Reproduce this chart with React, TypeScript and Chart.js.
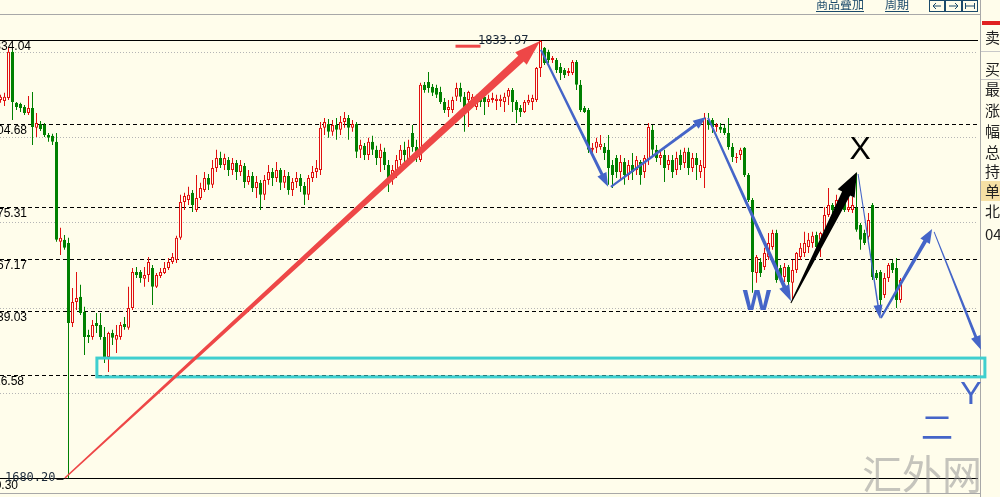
import React, { useEffect, useRef } from 'react';
import { Chart, registerables } from 'chart.js';

Chart.register(...registerables);

// ---------- data ----------
const openPrices = [
  1813.0, 1812.6, 1813.7, 1829.9, 1812.0, 1811.6, 1810.5, 1808.4, 1810.2, 1803.2,
  1804.6, 1804.2, 1800.7, 1800.4, 1798.3, 1763.2, 1763.9, 1762.8, 1734.7, 1742.1,
  1743.9, 1738.6, 1730.5, 1729.8, 1734.7, 1734.0, 1729.8, 1722.8, 1731.2, 1728.8,
  1729.8, 1734.4, 1733.0, 1740.0, 1752.6, 1752.6, 1750.2, 1751.6, 1754.0, 1747.4,
  1751.2, 1752.3, 1754.0, 1756.1, 1756.8, 1764.6, 1777.2, 1777.9, 1780.4, 1774.4,
  1778.6, 1781.4, 1785.6, 1783.2, 1789.1, 1792.6, 1790.2, 1791.9, 1788.4, 1790.9,
  1787.7, 1789.8, 1784.2, 1786.3, 1782.1, 1783.9, 1779.7, 1784.9, 1787.7, 1785.6,
  1788.4, 1783.9, 1786.3, 1781.4, 1784.2, 1785.6, 1782.8, 1779.7, 1785.6, 1787.7,
  1788.4, 1803.2, 1804.6, 1801.8, 1804.2, 1802.5, 1805.3, 1806.7, 1803.2, 1804.6,
  1795.5, 1796.9, 1793.7, 1798.3, 1795.5, 1792.6, 1794.8, 1790.2, 1785.6, 1787.7,
  1791.9, 1795.5, 1791.9, 1801.4, 1796.5, 1791.9, 1818.3, 1819.3, 1817.6, 1817.2,
  1815.8, 1812.3, 1809.5, 1809.5, 1814.1, 1817.2, 1814.1, 1813.0, 1812.0, 1810.5,
  1814.8, 1814.1, 1812.3, 1813.0, 1812.6, 1812.6, 1812.3, 1814.1, 1816.5, 1812.3,
  1810.2, 1808.8, 1812.0, 1812.3, 1813.0, 1824.2, 1831.3, 1829.9, 1827.0, 1827.0,
  1824.6, 1823.5, 1822.5, 1822.5, 1826.3, 1818.3, 1810.2, 1809.5, 1795.5, 1796.2,
  1796.5, 1796.5, 1795.5, 1790.2, 1792.6, 1787.7, 1791.2, 1786.7, 1790.2, 1788.4,
  1791.2, 1787.7, 1791.9, 1802.5, 1795.5, 1792.6, 1793.7, 1790.2, 1791.9, 1788.4,
  1793.7, 1790.9, 1794.8, 1789.1, 1792.6, 1787.7, 1789.1, 1806.0, 1806.0, 1803.5,
  1803.5, 1803.2, 1801.4, 1796.5, 1792.6, 1793.7, 1796.2, 1786.7, 1777.9, 1752.3,
  1756.1, 1754.4, 1757.9, 1761.4, 1766.3, 1754.0, 1750.9, 1754.4, 1748.8, 1753.3,
  1757.9, 1759.3, 1761.4, 1762.8, 1765.6, 1763.9, 1766.7, 1772.6, 1776.1, 1775.4,
  1777.2, 1776.8, 1774.4, 1774.4, 1775.1, 1769.1, 1766.3, 1765.0, 1776.1, 1752.3,
  1752.6, 1744.5, 1750.5, 1755.8, 1754.0, 1742.8,
];
const highPrices = [
  1814.8, 1815.5, 1831.3, 1830.6, 1812.3, 1812.0, 1811.2, 1814.4, 1815.8, 1808.4,
  1805.6, 1804.9, 1801.4, 1801.1, 1801.4, 1768.1, 1765.6, 1764.6, 1747.0, 1752.6,
  1748.1, 1740.4, 1732.3, 1735.8, 1738.2, 1738.2, 1733.3, 1731.6, 1732.3, 1734.0,
  1735.1, 1736.8, 1747.4, 1754.0, 1754.4, 1753.3, 1754.4, 1757.9, 1755.1, 1752.3,
  1754.0, 1756.1, 1757.5, 1759.3, 1765.3, 1779.7, 1780.4, 1782.5, 1781.4, 1786.7,
  1783.9, 1787.7, 1787.0, 1791.9, 1795.5, 1794.8, 1794.1, 1793.0, 1792.6, 1791.9,
  1791.9, 1790.9, 1788.4, 1787.7, 1786.3, 1784.9, 1786.7, 1790.2, 1789.1, 1791.2,
  1789.1, 1788.4, 1787.7, 1785.6, 1787.7, 1787.0, 1784.2, 1786.7, 1789.8, 1791.9,
  1805.3, 1806.7, 1806.3, 1806.0, 1806.7, 1807.4, 1808.8, 1807.7, 1806.0, 1805.3,
  1799.0, 1797.9, 1799.7, 1800.4, 1796.9, 1797.6, 1796.2, 1791.9, 1790.2, 1793.7,
  1797.2, 1798.3, 1799.0, 1804.2, 1799.0, 1819.0, 1819.3, 1822.8, 1818.6, 1818.3,
  1817.6, 1813.7, 1813.0, 1814.1, 1819.0, 1819.0, 1815.8, 1816.2, 1815.1, 1814.8,
  1815.8, 1816.5, 1814.8, 1815.5, 1814.8, 1814.8, 1815.5, 1817.2, 1817.2, 1813.0,
  1811.2, 1813.0, 1814.8, 1814.8, 1824.6, 1833.97, 1831.6, 1830.6, 1828.4, 1827.7,
  1826.0, 1824.2, 1824.2, 1827.0, 1827.0, 1820.0, 1810.9, 1810.2, 1797.9, 1799.7,
  1800.7, 1797.9, 1800.7, 1791.9, 1793.7, 1793.7, 1792.6, 1791.9, 1794.4, 1793.3,
  1791.9, 1793.7, 1804.9, 1804.2, 1797.2, 1795.5, 1795.5, 1793.7, 1793.7, 1794.8,
  1795.5, 1796.2, 1796.2, 1794.4, 1794.4, 1791.9, 1808.4, 1808.4, 1806.7, 1804.9,
  1804.9, 1804.2, 1806.7, 1797.9, 1794.4, 1796.2, 1796.5, 1787.4, 1778.6, 1758.6,
  1757.5, 1761.1, 1766.3, 1767.4, 1767.4, 1755.1, 1755.8, 1755.1, 1756.8, 1759.6,
  1762.8, 1766.7, 1766.3, 1766.7, 1766.7, 1766.7, 1775.4, 1782.1, 1776.8, 1779.7,
  1778.6, 1779.0, 1778.6, 1779.0, 1787.4, 1769.8, 1767.4, 1773.3, 1776.8, 1753.3,
  1753.3, 1752.3, 1755.8, 1756.8, 1757.5, 1750.5,
];
const lowPrices = [
  1812.0, 1810.9, 1813.0, 1806.0, 1809.5, 1808.8, 1807.7, 1807.7, 1797.2, 1800.0,
  1802.1, 1800.0, 1798.3, 1797.2, 1763.2, 1758.6, 1760.4, 1680.2, 1733.3, 1739.3,
  1737.5, 1723.5, 1727.7, 1728.8, 1731.2, 1728.8, 1720.7, 1717.5, 1727.0, 1724.2,
  1728.8, 1732.3, 1732.3, 1739.3, 1750.5, 1748.8, 1747.4, 1749.1, 1741.0, 1747.0,
  1750.5, 1751.9, 1753.3, 1755.4, 1755.8, 1763.9, 1774.4, 1776.1, 1773.7, 1773.7,
  1777.9, 1780.7, 1781.4, 1782.1, 1787.7, 1789.1, 1788.4, 1786.3, 1786.7, 1784.9,
  1786.3, 1782.1, 1783.2, 1780.7, 1778.6, 1774.4, 1777.9, 1783.2, 1782.8, 1784.2,
  1781.4, 1782.1, 1779.7, 1779.3, 1782.1, 1780.7, 1776.1, 1777.9, 1784.2, 1785.6,
  1786.7, 1800.7, 1799.7, 1800.4, 1799.0, 1800.7, 1803.2, 1799.0, 1801.8, 1792.6,
  1792.6, 1791.9, 1791.9, 1793.7, 1790.2, 1787.7, 1788.4, 1780.7, 1783.2, 1785.6,
  1790.2, 1791.2, 1790.9, 1794.8, 1791.2, 1791.2, 1815.5, 1815.5, 1814.4, 1813.7,
  1811.6, 1808.4, 1807.0, 1808.4, 1812.6, 1812.3, 1801.8, 1803.5, 1810.9, 1809.5,
  1810.5, 1807.7, 1810.5, 1812.0, 1809.5, 1810.5, 1808.8, 1811.2, 1808.8, 1804.9,
  1807.0, 1808.4, 1811.2, 1809.5, 1812.3, 1821.1, 1825.3, 1826.0, 1826.0, 1822.5,
  1820.0, 1820.7, 1821.4, 1821.8, 1816.5, 1808.8, 1808.4, 1794.4, 1793.0, 1794.4,
  1795.5, 1791.9, 1783.2, 1782.1, 1785.6, 1784.9, 1783.2, 1784.9, 1784.9, 1786.7,
  1783.2, 1785.6, 1790.2, 1793.7, 1791.2, 1790.2, 1784.2, 1788.4, 1785.6, 1786.7,
  1788.4, 1789.1, 1786.7, 1787.7, 1784.9, 1785.6, 1782.1, 1802.5, 1801.4, 1801.8,
  1801.4, 1800.7, 1795.5, 1791.2, 1790.9, 1791.9, 1786.0, 1777.2, 1745.3, 1748.8,
  1750.9, 1753.3, 1756.8, 1760.4, 1748.8, 1749.1, 1749.1, 1747.4, 1742.8, 1752.3,
  1756.8, 1757.9, 1759.3, 1761.1, 1759.6, 1757.9, 1766.3, 1771.9, 1773.3, 1774.4,
  1774.4, 1773.7, 1773.7, 1773.3, 1766.7, 1760.4, 1762.1, 1763.9, 1749.8, 1749.8,
  1740.3, 1743.5, 1749.1, 1752.3, 1740.0, 1741.8,
];
const closePrices = [
  1814.1, 1814.1, 1829.9, 1812.3, 1810.5, 1810.2, 1808.4, 1810.2, 1803.5, 1804.9,
  1802.8, 1800.7, 1799.7, 1798.3, 1763.9, 1764.6, 1761.1, 1734.7, 1742.1, 1743.5,
  1738.2, 1729.8, 1729.8, 1734.0, 1733.7, 1729.8, 1722.4, 1731.2, 1729.5, 1730.5,
  1734.0, 1733.3, 1740.0, 1752.6, 1751.6, 1750.5, 1751.6, 1756.1, 1747.4, 1751.6,
  1752.6, 1754.0, 1756.1, 1757.9, 1764.6, 1777.2, 1779.3, 1779.7, 1776.1, 1778.6,
  1782.1, 1785.6, 1783.2, 1789.1, 1792.6, 1790.2, 1792.6, 1788.4, 1790.9, 1787.7,
  1790.2, 1784.2, 1786.3, 1782.1, 1784.2, 1779.7, 1784.9, 1787.7, 1785.6, 1788.4,
  1783.9, 1786.3, 1781.4, 1784.2, 1785.6, 1782.8, 1779.7, 1785.6, 1787.7, 1789.1,
  1803.2, 1805.3, 1801.8, 1804.2, 1802.5, 1805.3, 1806.7, 1803.2, 1804.6, 1794.8,
  1797.2, 1793.7, 1798.3, 1795.5, 1792.6, 1795.5, 1790.2, 1785.6, 1788.4, 1791.9,
  1795.5, 1793.7, 1796.5, 1796.5, 1792.6, 1818.3, 1816.5, 1817.2, 1815.5, 1814.8,
  1812.3, 1809.5, 1810.5, 1813.0, 1817.2, 1814.1, 1810.5, 1815.8, 1814.1, 1813.7,
  1812.3, 1812.3, 1813.4, 1813.7, 1813.4, 1813.4, 1814.1, 1816.5, 1812.3, 1809.5,
  1808.8, 1812.3, 1813.0, 1813.7, 1824.2, 1833.7, 1826.0, 1827.0, 1827.7, 1823.5,
  1822.5, 1821.8, 1823.2, 1826.3, 1818.3, 1809.5, 1808.8, 1795.5, 1796.2, 1798.3,
  1797.6, 1794.4, 1789.1, 1786.7, 1787.7, 1791.2, 1786.7, 1790.2, 1787.7, 1791.9,
  1786.7, 1792.6, 1803.5, 1795.5, 1792.6, 1793.7, 1789.1, 1791.9, 1787.7, 1792.6,
  1790.2, 1794.8, 1789.1, 1792.6, 1790.2, 1790.2, 1806.7, 1804.2, 1803.5, 1804.2,
  1802.5, 1801.4, 1796.5, 1793.0, 1793.0, 1795.5, 1786.7, 1777.9, 1752.6, 1757.9,
  1752.3, 1759.3, 1762.8, 1766.3, 1749.8, 1750.9, 1754.4, 1749.1, 1753.3, 1759.3,
  1761.1, 1762.8, 1763.9, 1765.3, 1761.4, 1766.3, 1772.6, 1776.1, 1774.4, 1777.9,
  1775.4, 1774.4, 1775.4, 1776.1, 1767.4, 1763.9, 1762.8, 1770.9, 1750.9, 1750.5,
  1742.8, 1750.5, 1755.1, 1753.3, 1742.8, 1749.8,
];

const gridValues = [1830, 1800, 1770, 1740, 1710];
const fibLevels = [1834.04, 1804.68, 1775.31, 1757.17, 1739.03, 1716.58, 1680.3];
const fibLabels = ['1834.04', '1804.68', '1775.31', '1767.17', '1739.03', '1716.58', '1680.30'];

// wave arrows: start / end in (bar index, price)
const waveFromIdx = [16.1, 135.1, 152.6, 176.9, 197.6, 214.4, 220.1, 233.4];
const waveFromPrice = [1680.3, 1830.6, 1782.5, 1806.7, 1741.7, 1787.0, 1736.5, 1766.7];
const waveToIdx = [134.9, 151.9, 176.4, 197.6, 214.1, 219.9, 232.9, 245.1];
const waveToPrice = [1833.7, 1782.5, 1807.0, 1742.4, 1787.7, 1736.1, 1767.7, 1725.3];

const waveLabels = ['W', 'X', 'Y', '二'];
const waveLabelIdx = [189.1, 214.9, 242.6, 234.1];
const waveLabelPrice = [1742.1, 1795.5, 1709.5, 1698.2];

const zoneIdx = [24.1, 246.1];
const zonePrice = [1722.4, 1715.8];

const panelLabels = ['卖', '买', '最', '涨', '幅', '总', '持', '单', '北', '04'];
const toolbarLabels = ['商品叠加', '周期'];
const watermarkText = '汇外网';

// ---------- styles ----------
const CREAM = '#FFFDEB';
const RED = '#E01010';
const GREEN = '#008000';
const BLUE = '#4565C8';
const ARROW_RED = '#EE4747';

const arrowStyles = [
  { color: ARROW_RED, w1: 1.5, w2: 8, head: 26, headW: 17 },
  { color: BLUE, w1: 2, w2: 3, head: 14, headW: 10 },
  { color: BLUE, w1: 2, w2: 3, head: 13, headW: 10 },
  { color: BLUE, w1: 2, w2: 4, head: 16, headW: 11 },
  { color: '#000000', w1: 1, w2: 9, head: 24, headW: 19 },
  { color: BLUE, w1: 1, w2: 1.5, head: 14, headW: 9 },
  { color: BLUE, w1: 2, w2: 4, head: 14, headW: 11 },
  { color: BLUE, w1: 1, w2: 3, head: 14, headW: 10 },
];
const labelStyles = [
  { color: BLUE, font: 'bold 30px "Liberation Sans"' },
  { color: '#000000', font: '32px "Liberation Sans"' },
  { color: BLUE, font: '32px "Liberation Sans"' },
  { color: BLUE, font: '32px "Noto Sans CJK SC"' },
];
const fibLabelRight = [31, 27, 27, 27, 27, 24, 18];

function drawArrow(ctx: CanvasRenderingContext2D, x1: number, y1: number, x2: number, y2: number,
  w1: number, w2: number, head: number, headW: number, color: string) {
  const dx = x2 - x1, dy = y2 - y1;
  const len = Math.hypot(dx, dy);
  const ux = dx / len, uy = dy / len;
  const nx = -uy, ny = ux;
  const bx = x2 - ux * head, by = y2 - uy * head;
  ctx.beginPath();
  ctx.moveTo(x1 + nx * w1 / 2, y1 + ny * w1 / 2);
  ctx.lineTo(bx + nx * w2 / 2, by + ny * w2 / 2);
  ctx.lineTo(bx + nx * headW / 2, by + ny * headW / 2);
  ctx.lineTo(x2, y2);
  ctx.lineTo(bx - nx * headW / 2, by - ny * headW / 2);
  ctx.lineTo(bx - nx * w2 / 2, by - ny * w2 / 2);
  ctx.lineTo(x1 - nx * w1 / 2, y1 - ny * w1 / 2);
  ctx.closePath();
  ctx.fillStyle = color;
  ctx.fill();
}

function hline(ctx: CanvasRenderingContext2D, x1: number, x2: number, y: number) {
  ctx.beginPath();
  ctx.moveTo(x1, y);
  ctx.lineTo(x2, y);
  ctx.stroke();
}

const overlayPlugin = {
  id: 'overlay',
  beforeDraw(chart: any) {
    const ctx = chart.ctx as CanvasRenderingContext2D;
    ctx.save();
    ctx.fillStyle = CREAM;
    ctx.fillRect(0, 0, chart.width, chart.height);
    ctx.restore();
  },
  beforeDatasetsDraw(chart: any) {
    const ctx = chart.ctx as CanvasRenderingContext2D;
    const { left, right, top, bottom } = chart.chartArea;
    const y = chart.scales.y;
    ctx.save();
    // dotted grid
    ctx.strokeStyle = '#B5B5B5';
    ctx.lineWidth = 1;
    ctx.setLineDash([1, 2]);
    gridValues.forEach((v) => hline(ctx, left, right - 2, Math.round(y.getPixelForValue(v)) + 0.5));
    // fibonacci levels
    ctx.strokeStyle = '#000000';
    fibLevels.forEach((v, i) => {
      ctx.setLineDash(i === 0 || i === fibLevels.length - 1 ? [] : [4, 3]);
      hline(ctx, left, right - 2, Math.round(y.getPixelForValue(v)) + 0.5);
    });
    ctx.setLineDash([]);
    ctx.font = '12px "Liberation Sans"';
    ctx.fillStyle = '#000000';
    ctx.textAlign = 'right';
    ctx.textBaseline = 'top';
    fibLevels.forEach((v, i) => {
      const py = Math.round(y.getPixelForValue(v));
      const last = i === fibLevels.length - 1;
      ctx.fillText(fibLabels[i], fibLabelRight[i], py + (last ? 2 : 1));
    });
    // frame lines
    ctx.strokeStyle = '#A8A8A8';
    hline(ctx, 0, right, top + 0.5);
    hline(ctx, 0, right, bottom + 0.5);
    ctx.beginPath();
    ctx.moveTo(right + 0.5, 0);
    ctx.lineTo(right + 0.5, chart.height);
    ctx.stroke();
    ctx.restore();
  },
  afterDatasetsDraw(chart: any) {
    const ctx = chart.ctx as CanvasRenderingContext2D;
    const x = chart.scales.x;
    const y = chart.scales.y;
    ctx.save();
    // support zone
    const zx1 = x.getPixelForValue(zoneIdx[0]);
    const zx2 = x.getPixelForValue(zoneIdx[1]);
    const zy1 = y.getPixelForValue(zonePrice[0]);
    const zy2 = y.getPixelForValue(zonePrice[1]);
    ctx.strokeStyle = '#3FCFCF';
    ctx.lineWidth = 3;
    ctx.strokeRect(zx1, zy1, zx2 - zx1, zy2 - zy1);
    // wave arrows
    waveFromIdx.forEach((_, i) => {
      const s = arrowStyles[i];
      drawArrow(ctx,
        x.getPixelForValue(waveFromIdx[i]), y.getPixelForValue(waveFromPrice[i]),
        x.getPixelForValue(waveToIdx[i]), y.getPixelForValue(waveToPrice[i]),
        s.w1, s.w2, s.head, s.headW, s.color);
    });
    // wave labels
    ctx.textAlign = 'center';
    ctx.textBaseline = 'middle';
    waveLabels.forEach((t, i) => {
      ctx.font = labelStyles[i].font;
      ctx.fillStyle = labelStyles[i].color;
      ctx.fillText(t, x.getPixelForValue(waveLabelIdx[i]), y.getPixelForValue(waveLabelPrice[i]));
    });
    // high / low price tags
    const hiVal = Math.max(...highPrices);
    const hiIdx = highPrices.indexOf(hiVal);
    const loVal = Math.min(...lowPrices);
    const loIdx = lowPrices.indexOf(loVal);
    const hx = x.getPixelForValue(hiIdx);
    const hy = y.getPixelForValue(hiVal);
    ctx.strokeStyle = ARROW_RED;
    ctx.lineWidth = 3;
    hline(ctx, hx - 85, hx - 60, hy + 6);
    ctx.font = '12px "DejaVu Sans Mono"';
    ctx.fillStyle = '#1C2A3A';
    ctx.textAlign = 'right';
    ctx.fillText(hiVal.toFixed(2), hx - 12, hy + 1);
    const lx = x.getPixelForValue(loIdx);
    const ly = y.getPixelForValue(loVal);
    ctx.fillText(loVal.toFixed(2), lx - 13, ly);
    ctx.strokeStyle = '#333333';
    ctx.lineWidth = 1;
    hline(ctx, lx - 12, lx - 5, Math.round(ly) + 1.5);
    ctx.restore();
  },
  afterDraw(chart: any) {
    const ctx = chart.ctx as CanvasRenderingContext2D;
    ctx.save();
    // toolbar
    ctx.font = '12px "Noto Sans CJK SC"';
    ctx.fillStyle = '#1B4A6B';
    ctx.strokeStyle = '#1B4A6B';
    ctx.lineWidth = 1;
    ctx.textAlign = 'left';
    ctx.textBaseline = 'top';
    const tx = [816, 885];
    toolbarLabels.forEach((t, i) => {
      ctx.fillText(t, tx[i], -2);
      const w = ctx.measureText(t).width;
      hline(ctx, tx[i], tx[i] + w, 11.5);
    });
    // toolbar icons
    ctx.strokeRect(929.5, 0.5, 15, 11);
    ctx.strokeRect(945.5, 0.5, 16, 11);
    ctx.strokeRect(962.5, 0.5, 15, 11);
    ctx.beginPath();
    ctx.moveTo(941, 6); ctx.lineTo(933, 6); ctx.moveTo(936, 3); ctx.lineTo(933, 6); ctx.lineTo(936, 9);
    ctx.moveTo(949, 6); ctx.lineTo(958, 6); ctx.moveTo(955, 3); ctx.lineTo(958, 6); ctx.lineTo(955, 9);
    ctx.moveTo(965.5, 3); ctx.lineTo(965.5, 9); ctx.moveTo(974.5, 3); ctx.lineTo(974.5, 9);
    ctx.moveTo(966, 6); ctx.lineTo(974, 6);
    ctx.stroke();
    // right panel
    ctx.fillStyle = '#E02020';
    ctx.fillRect(982, 21, 18, 4);
    ctx.fillStyle = '#F6E0A4';
    ctx.fillRect(981, 181, 19, 20);
    ctx.strokeStyle = '#C8C8C8';
    hline(ctx, 981, 1000, 51.5);
    hline(ctx, 981, 1000, 79.5);
    ctx.font = '15px "Noto Sans CJK SC"';
    ctx.fillStyle = '#222222';
    ctx.textBaseline = 'middle';
    const py = [37, 69, 89, 110, 131, 152, 171, 191, 211, 234];
    panelLabels.forEach((t, i) => ctx.fillText(t, 985, py[i]));
    // watermark
    ctx.font = '40px "Noto Sans CJK SC"';
    ctx.fillStyle = 'rgba(150,150,150,0.55)';
    ctx.textBaseline = 'alphabetic';
    ctx.fillText(watermarkText, 862, 489);
    ctx.restore();
  },
};

export default function App() {
  const ref = useRef<HTMLCanvasElement>(null);
  useEffect(() => {
    document.body.style.margin = '0';
    document.body.style.background = CREAM;
    document.body.style.overflow = 'hidden';
    const idx = openPrices.map((_, i) => i);
    const up = idx.map((i) => closePrices[i] >= openPrices[i]);
    const chart = new Chart(ref.current as HTMLCanvasElement, {
      type: 'bar',
      data: {
        datasets: [
          {
            label: 'body',
            data: idx.map((i) => ({ x: i, y: [openPrices[i], closePrices[i]] })) as any,
            backgroundColor: up.map((u) => (u ? CREAM : GREEN)),
            borderColor: up.map((u) => (u ? RED : GREEN)),
            borderWidth: 1,
            borderSkipped: false,
            barThickness: 3,
            grouped: false,
            inflateAmount: 0,
            order: 0,
          } as any,
          {
            label: 'wick',
            data: idx.map((i) => ({ x: i, y: [lowPrices[i], highPrices[i]] })) as any,
            backgroundColor: up.map((u) => (u ? RED : GREEN)),
            borderWidth: 0,
            barThickness: 1,
            grouped: false,
            inflateAmount: 0,
            order: 1,
          } as any,
        ],
      },
      options: {
        responsive: false,
        animation: false,
        devicePixelRatio: 1,
        events: [],
        layout: { padding: { left: 0, right: 20, top: 14, bottom: 4 } },
        plugins: { legend: { display: false }, tooltip: { enabled: false } },
        scales: {
          x: { type: 'linear', min: -0.125, max: 244.875, offset: false, display: false },
          y: { type: 'linear', min: 1675.04, max: 1843.17, display: false },
        },
      } as any,
      plugins: [overlayPlugin],
    });
    return () => chart.destroy();
  }, []);
  return (
    <div style={{ width: 1000, height: 497, background: CREAM }}>
      <canvas ref={ref} width={1000} height={497} style={{ display: 'block', width: 1000, height: 497 }} />
    </div>
  );
}
